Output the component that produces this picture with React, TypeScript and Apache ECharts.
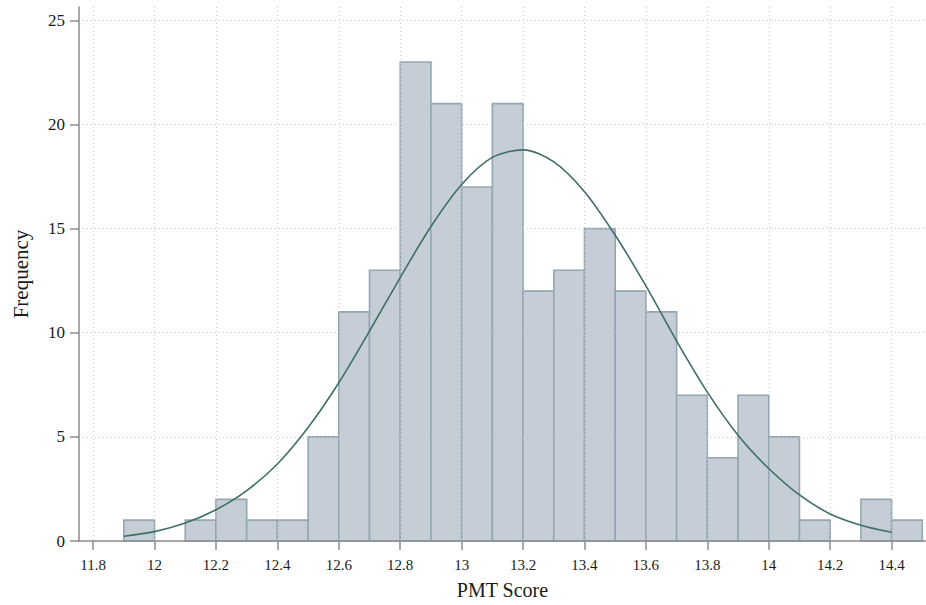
import React, { useEffect, useRef } from "react";
import * as echarts from "echarts";

// Histogram bins (left edges, width 0.1) and counts
const binStarts = [11.9, 12.0, 12.1, 12.2, 12.3, 12.4, 12.5, 12.6, 12.7, 12.8, 12.9, 13.0, 13.1, 13.2, 13.3, 13.4, 13.5, 13.6, 13.7, 13.8, 13.9, 14.0, 14.1, 14.2, 14.3, 14.4];
const binWidth = 0.1;
const counts = [1, 0, 1, 2, 1, 1, 5, 11, 13, 23, 21, 17, 21, 12, 13, 15, 12, 11, 7, 4, 7, 5, 1, 0, 2, 1];

// Fitted normal curve
const curveX = [11.9, 12.0, 12.1, 12.2, 12.3, 12.4, 12.5, 12.6, 12.7, 12.8, 12.9, 13.0, 13.1, 13.2, 13.3, 13.4, 13.5, 13.6, 13.7, 13.8, 13.9, 14.0, 14.1, 14.2, 14.3, 14.4];
const curveY = [0.23, 0.45, 0.86, 1.5, 2.42, 3.7, 5.45, 7.6, 10.08, 12.65, 15.1, 17.12, 18.42, 18.78, 18.2, 16.77, 14.68, 12.25, 9.6, 7.15, 5.08, 3.48, 2.21, 1.3, 0.76, 0.42];

// Tick labels
const xTicks = [11.8, 12, 12.2, 12.4, 12.6, 12.8, 13, 13.2, 13.4, 13.6, 13.8, 14, 14.2, 14.4];
const yTicks = [0, 5, 10, 15, 20, 25];

const FONT = "'Liberation Serif', 'DejaVu Serif', serif";
const AXIS_COLOR = "#8c8c8c";
const GRID_COLOR = "#c8c8c8";

export default function App() {
  const ref = useRef<HTMLDivElement>(null);

  useEffect(() => {
    if (!ref.current) return;
    const chart = echarts.init(ref.current, null, { renderer: "svg" });

    const barData = binStarts
      .map((s, i) => [s, +(s + binWidth).toFixed(2), counts[i]])
      .filter((d) => d[2] > 0);

    const option: any = {
      animation: false,
      backgroundColor: "#ffffff",
      textStyle: { fontFamily: FONT },
      grid: { left: 79, right: 0, top: 7, bottom: 62, containLabel: false },
      xAxis: {
        type: "value",
        min: 11.754,
        max: 14.512,
        z: 3,
        name: "PMT Score",
        nameLocation: "middle",
        nameGap: 39,
        nameTextStyle: { fontFamily: FONT, fontSize: 20, color: "#1a1a1a" },
        axisLine: { show: true, onZero: false, lineStyle: { color: AXIS_COLOR, width: 1.5 } },
        axisTick: { show: true, length: 9, customValues: xTicks, lineStyle: { color: AXIS_COLOR, width: 1.5 } },
        axisLabel: {
          customValues: xTicks,
          margin: 16,
          fontFamily: FONT,
          fontSize: 15,
          color: "#1a1a1a",
          formatter: (v: number) => String(+v.toFixed(1)),
        },
        splitLine: { show: true, lineStyle: { color: GRID_COLOR, width: 1, type: [1, 3] } },
      },
      yAxis: {
        type: "value",
        min: 0,
        max: 25.64,
        z: 3,
        name: "Frequency",
        nameLocation: "middle",
        nameGap: 48,
        nameRotate: 90,
        nameTextStyle: { fontFamily: FONT, fontSize: 21, color: "#1a1a1a" },
        axisLine: { show: true, lineStyle: { color: AXIS_COLOR, width: 1.5 } },
        axisTick: { show: true, length: 9, customValues: yTicks, lineStyle: { color: AXIS_COLOR, width: 1.5 } },
        axisLabel: {
          customValues: yTicks,
          margin: 14,
          fontFamily: FONT,
          fontSize: 17,
          color: "#1a1a1a",
        },
        splitLine: { show: true, lineStyle: { color: GRID_COLOR, width: 1, type: [1, 3] } },
      },
      series: [
        {
          type: "custom",
          z: 2,
          data: barData,
          encode: { x: [0, 1], y: 2 },
          renderItem: (params: any, api: any) => {
            const x0 = api.value(0);
            const x1 = api.value(1);
            const c = api.value(2);
            const p0 = api.coord([x0, c]);
            const p1 = api.coord([x1, 0]);
            return {
              type: "rect",
              shape: { x: p0[0], y: p0[1], width: p1[0] - p0[0], height: p1[1] - p0[1] },
              style: { fill: "#c5ced7", stroke: "#95a6b3", lineWidth: 1.6 },
            };
          },
        },
        {
          type: "line",
          z: 5,
          data: curveX.map((x, i) => [x, curveY[i]]),
          smooth: 0.3,
          showSymbol: false,
          symbol: "none",
          lineStyle: { color: "#3f6e67", width: 1.6 },
        },
      ],
    };

    chart.setOption(option);
    return () => chart.dispose();
  }, []);

  return (
    <div
      ref={ref}
      style={{ position: "fixed", left: 0, top: 0, width: 926, height: 605, background: "#fff" }}
    />
  );
}
